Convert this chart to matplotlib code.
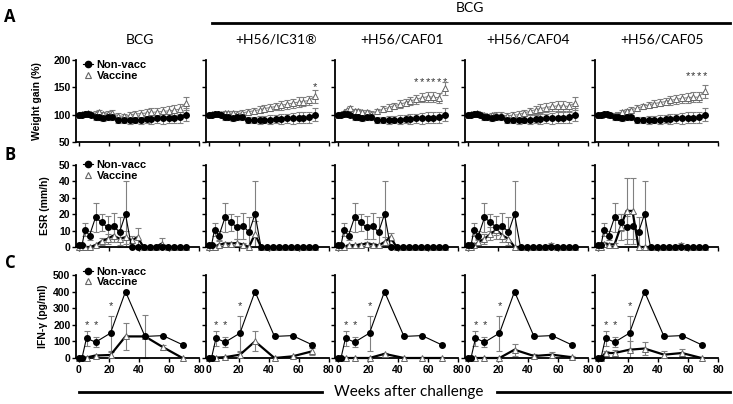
import matplotlib
matplotlib.use("Agg")
import matplotlib.pyplot as plt
from matplotlib.lines import Line2D
import numpy as np

# ---- data ----
groups = ["BCG", "+H56/IC31\u00ae", "+H56/CAF01", "+H56/CAF04", "+H56/CAF05"]

# A: weight gain (%)
wt_weeks = [0, 2, 4, 6, 8, 11, 13, 16, 19, 22, 26, 30, 34, 37, 41, 45, 48, 52, 56, 60, 63, 67, 71]
wt_nonvacc = [100, 100, 101, 101, 100, 95, 95, 94, 95, 95, 90, 90, 90, 91, 91, 92, 92, 93, 93, 94, 94, 95, 100]
wt_nonvacc_err = [2, 2, 2, 2, 2, 4, 4, 5, 5, 5, 6, 6, 7, 7, 8, 8, 9, 9, 10, 10, 10, 10, 12]
wt_vacc = [
    [100, 101, 102, 103, 101, 102, 104, 101, 102, 103, 98, 97, 99, 101, 102, 103, 104, 105, 106, 107, 108, 110, 121],
    [100, 101, 102, 102, 102, 103, 103, 103, 102, 103, 105, 107, 109, 111, 113, 115, 117, 119, 121, 123, 124, 126, 134],
    [100, 102, 104, 108, 112, 106, 107, 104, 105, 102, 106, 110, 113, 116, 119, 122, 125, 128, 131, 133, 132, 131, 148],
    [100, 101, 102, 103, 101, 99, 98, 99, 100, 99, 98, 99, 100, 103, 106, 109, 111, 113, 115, 116, 116, 115, 121],
    [100, 100, 101, 102, 100, 99, 100, 104, 106, 109, 112, 115, 118, 120, 122, 124, 126, 128, 130, 131, 132, 132, 143],
]
wt_vacc_err = [3, 3, 3, 3, 3, 4, 4, 4, 4, 5, 5, 5, 6, 6, 7, 7, 8, 8, 8, 9, 9, 9, 12]
wt_stars = [0, 1, 6, 0, 4]          # stars over the last n points
wt_star_y = [0, 150, 160, 0, 170]

# B: ESR (mm/h)
esr_weeks = [0, 2, 4, 7, 11, 15, 19, 23, 27, 31, 35, 39, 43, 47, 51, 55, 59, 63, 67, 71]
esr_nonvacc = [1, 1, 10.5, 7, 18, 15, 12, 13, 9, 20, 0, 0, 0, 0, 0, 0, 0, 0, 0, 0]
esr_nonvacc_err = [1, 1, 4, 2.5, 9, 5, 7, 8, 9, 20, 0, 0, 0, 0, 0, 0, 0, 0, 0, 0]
esr_vacc = [
    [0, 0, 0, 0, 1, 3.5, 5, 7, 5, 6, 4, 6, 0, 0, 0, 2, 0, 0, 0, 0],
    [0, 0, 0, 1.5, 2, 2, 2.5, 1.5, 0, 8, 0, 0, 0, 0, 0, 0, 0, 0, 0, 0],
    [0, 0, 0, 1, 1, 1.5, 2, 1.5, 1, 3, 6, 0, 0, 0, 0, 0, 0, 0, 0, 0],
    [0, 0, 1, 3, 5, 8, 10.5, 7, 5, 0, 0, 0, 0, 0, 0, 1, 0, 0, 0, 0],
    [0, 0, 2, 1.5, 1.5, 12, 22, 22, 0, 0, 0, 0, 0, 0, 0, 1, 0, 0, 0, 0],
]
esr_vacc_err = [
    [0, 0, 0, 0, 1, 2, 3, 4, 4, 4, 3, 5.5, 0, 0, 0, 3.5, 0, 0, 0, 0],
    [0, 0, 1, 2, 1, 1, 2.5, 1, 0, 8, 0, 0, 0, 0, 0, 0, 0, 0, 0, 0],
    [0, 0, 0, 1, 1, 1, 1, 1, 1, 3, 2.5, 0, 0, 0, 0, 0, 0, 0, 0, 0],
    [0, 0, 1, 2, 3, 4, 3, 4, 4, 0, 0, 0, 0, 0, 0, 1.5, 0, 0, 0, 0],
    [0, 0, 1, 1, 1, 8, 20, 20, 0, 0, 0, 0, 0, 0, 0, 1.5, 0, 0, 0, 0],
]

# C: IFN-gamma (pg/ml)
ifn_weeks = [0, 2, 5, 11, 21, 31, 44, 56, 69]
ifn_nonvacc = [0, 0, 120, 95, 150, 400, 130, 135, 80]
ifn_nonvacc_err = [0, 0, 45, 30, 105, 0, 0, 0, 0]
ifn_vacc = [
    [0, 0, 3, 15, 18, 130, 130, 65, 0],
    [0, 0, 2, 5, 20, 100, 0, 10, 40],
    [0, 0, 0, 0, 0, 25, 0, 0, 0],
    [0, 0, 0, 0, 0, 50, 12, 20, 5],
    [0, 0, 30, 30, 50, 57, 20, 30, 0],
]
ifn_vacc_err = [
    [0, 0, 3, 5, 20, 80, 130, 15, 0],
    [0, 0, 2, 3, 15, 60, 0, 5, 20],
    [0, 0, 0, 0, 0, 5, 0, 0, 0],
    [0, 0, 0, 0, 0, 35, 10, 15, 5],
    [0, 0, 15, 20, 50, 40, 20, 25, 0],
]
ifn_star_idx = [2, 3, 4]
ifn_star_y = [200, 200, 310]

# ---- layout (pixels) ----
W, H = 733, 404
col_x0 = [79, 208.5, 338, 468, 598]
row_px = [(60, 142), (165, 247), (275, 358)]
ERR = "#808080"

plt.rcParams["font.family"] = ["Liberation Sans", "DejaVu Sans"]
plt.rcParams["font.weight"] = "bold"
plt.rcParams["axes.labelweight"] = "bold"

fig = plt.figure(figsize=(W / 100, H / 100), dpi=100)


def add_ax(x0, top, bottom):
    return fig.add_axes([(x0 - 3) / W, 1 - bottom / H, 123 / W, (bottom - top) / H])


def errs(ax, x, y, e, z):
    x, y, e = np.asarray(x), np.asarray(y, float), np.asarray(e, float)
    m = e > 0
    if m.any():
        ax.errorbar(x[m], y[m], yerr=e[m], fmt="none", ecolor=ERR, elinewidth=0.8,
                    capsize=2, capthick=0.8, zorder=z, clip_on=False)


def draw(ax, x, nv, nv_e, vc, vc_e, vlw, vcol):
    errs(ax, x, vc, vc_e, 2)
    errs(ax, x, nv, nv_e, 2)
    ax.plot(x, vc, "-", color=vcol, lw=vlw, marker="^", ms=4, mfc="white",
            mec="#666666", mew=0.7, zorder=3, clip_on=False)
    ax.plot(x, nv, "-", color="black", lw=0.8, marker="o", ms=4, mfc="black",
            mec="black", zorder=4, clip_on=False)


def style(ax, ylim, yticks, show_x):
    ax.set_xlim(-2, 80)
    ax.set_ylim(*ylim)
    ax.set_xticks([0, 20, 40, 60, 80])
    ax.set_yticks(yticks)
    for s in ["top", "right"]:
        ax.spines[s].set_visible(False)
    ax.spines["left"].set_linewidth(1.3)
    ax.spines["bottom"].set_linewidth(1.3)
    ax.tick_params(direction="out", length=3, width=1, labelsize=7.5, pad=1)
    ax.tick_params(axis="x", labelbottom=show_x, pad=2)
    for lab in ax.get_xticklabels() + ax.get_yticklabels():
        lab.set_fontweight("bold")
    ax.patch.set_alpha(0)


legend_handles = [
    Line2D([], [], color="black", lw=0.8, marker="o", ms=4.5, mfc="black"),
    Line2D([], [], color="none", lw=0, marker="^", ms=5, mfc="white", mec="#666666", mew=0.8),
]


def legend(ax, yanchor):
    lg = ax.legend(legend_handles, ["Non-vacc", "Vaccine"], loc="upper left",
                   bbox_to_anchor=(0.06, yanchor), frameon=False,
                   prop={"size": 8, "weight": "bold"},
                   handlelength=0.9, handletextpad=0.3, labelspacing=0.05,
                   borderpad=0, borderaxespad=0)
    return lg


for i, x0 in enumerate(col_x0):
    # A
    ax = add_ax(x0, *row_px[0])
    draw(ax, wt_weeks, wt_nonvacc, wt_nonvacc_err, wt_vacc[i], wt_vacc_err, 0.8, "#888888")
    style(ax, (50, 200), [50, 100, 150, 200], False)
    if wt_stars[i]:
        for xs in wt_weeks[-wt_stars[i]:]:
            ax.text(xs, wt_star_y[i], "*", ha="center", va="center", fontsize=8,
                    fontweight="normal", color="#333333")
    if i == 0:
        ax.set_ylabel("Weight gain (%)", fontsize=7.5, fontweight="bold")
        ax.yaxis.set_label_coords(-0.28, 0.5)
        legend(ax, 1.0)
    else:
        ax.set_yticklabels([])

    # B
    ax = add_ax(x0, *row_px[1])
    draw(ax, esr_weeks, esr_nonvacc, esr_nonvacc_err, esr_vacc[i], esr_vacc_err[i], 1.6, "black")
    style(ax, (0, 50), [0, 10, 20, 30, 40, 50], False)
    if i == 0:
        ax.set_ylabel("ESR (mm/h)", fontsize=7.5, fontweight="bold")
        ax.yaxis.set_label_coords(-0.21, 0.5)
        legend(ax, 1.06)
    else:
        ax.set_yticklabels([])

    # C
    ax = add_ax(x0, *row_px[2])
    draw(ax, ifn_weeks, ifn_nonvacc, ifn_nonvacc_err, ifn_vacc[i], ifn_vacc_err[i], 1.6, "black")
    style(ax, (0, 500), [0, 100, 200, 300, 400, 500], True)
    for k, ys in zip(ifn_star_idx, ifn_star_y):
        ax.text(ifn_weeks[k], ys, "*", ha="center", va="center", fontsize=8,
                fontweight="normal", color="#333333")
    if i == 0:
        ax.set_ylabel("IFN-\u03b3 (pg/ml)", fontsize=7.5, fontweight="bold")
        ax.yaxis.set_label_coords(-0.23, 0.5)
        legend(ax, 1.1)
    else:
        ax.set_yticklabels([])

# column titles and group header
title_x = [140, 276, 402, 528, 662]
for g, tx in zip(groups, title_x):
    fig.text(tx / W, 1 - 40 / H, g, ha="center", va="center", fontsize=10,
             fontweight="normal", family=["Lato", "DejaVu Sans"])
fig.text(470 / W, 1 - 8 / H, "BCG", ha="center", va="center", fontsize=10,
         fontweight="normal", family=["Lato", "DejaVu Sans"])
fig.add_artist(Line2D([212 / W, 730 / W], [1 - 23 / H] * 2, color="black", lw=2))

# bottom axis title with line
fig.add_artist(Line2D([79 / W, 322 / W], [1 - 392 / H] * 2, color="black", lw=2))
fig.add_artist(Line2D([497 / W, 730 / W], [1 - 392 / H] * 2, color="black", lw=2))
fig.text(409 / W, 1 - 392 / H, "Weeks after challenge", ha="center", va="center",
         fontsize=11, fontweight="normal", family=["Lato", "DejaVu Sans"])

# panel letters
for letter, ly in zip("ABC", [17, 155, 263]):
    fig.text(10 / W, 1 - ly / H, letter, ha="center", va="center", fontsize=12,
             fontweight="bold", family=["Open Sans", "DejaVu Sans"])

fig.savefig("out.png", dpi=100)
